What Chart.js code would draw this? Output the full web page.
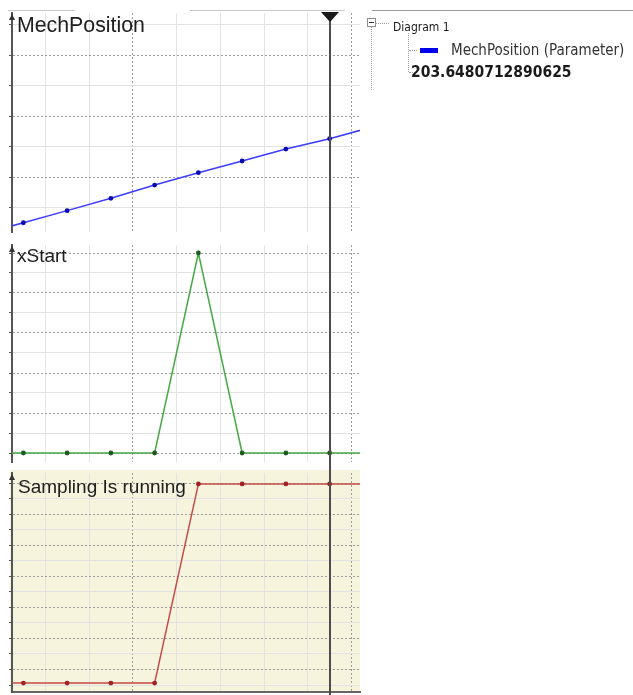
<!DOCTYPE html>
<html>
<head>
<meta charset="utf-8">
<title>Scope</title>
<script src="https://cdn.jsdelivr.net/npm/chart.js@4.4.1/dist/chart.umd.min.js"></script>
<style>
  html, body { margin: 0; padding: 0; background: #fff; }
  body { position: relative; width: 633px; height: 695px; overflow: hidden; }
  canvas.panel { position: absolute; left: 0; }
  .ptitle { position: absolute; left: 17px; color: #202020; white-space: nowrap; line-height: 1;
            font-family: "Liberation Sans", Arial, sans-serif; }
  .hl { position: absolute; height: 0; }
  .vl { position: absolute; width: 0; }
  .tree { position: absolute; white-space: nowrap; line-height: 1; color: #1a1a1a;
          font-family: "DejaVu Sans Condensed", "DejaVu Sans", sans-serif; font-stretch: condensed; }
  #toggle { position: absolute; left: 367px; top: 18px; width: 7px; height: 7px; border: 1px solid #8c8c8c; background: #fff; }
  #toggle::after { content: ""; position: absolute; left: 1px; top: 3px; width: 5px; height: 1px; background: #333; }
  #swatch { position: absolute; left: 420px; top: 48px; width: 18px; height: 5px; background: #0000ee; }
</style>
</head>
<body>

<!-- window frame strip above the plots -->
<div class="hl" style="left:8px;top:10px;width:67px;border-top:1px solid #c8c8c8;"></div>
<div class="hl" style="left:190px;top:10px;width:155px;border-top:1px solid #c8c8c8;"></div>
<div class="hl" style="left:372px;top:10px;width:261px;border-top:1px solid #9a9a9a;"></div>

<canvas class="panel" id="c1" width="362" height="239" style="top:0px"></canvas>
<canvas class="panel" id="c2" width="362" height="229" style="top:239px"></canvas>
<canvas class="panel" id="c3" width="362" height="227" style="top:468px"></canvas>

<div class="ptitle" id="t1" style="top:15px;font-size:21.3px;"></div>
<div class="ptitle" id="t2" style="top:246px;font-size:19px;"></div>
<div class="ptitle" id="t3" style="top:477px;left:18px;font-size:19px;"></div>

<!-- diagram tree -->
<div id="toggle"></div>
<div class="hl" style="left:376px;top:23px;width:13px;border-top:1px dotted #a0a0a0;"></div>
<div class="vl" style="left:371px;top:27px;height:63px;border-left:1px dotted #a0a0a0;"></div>
<div class="vl" style="left:408px;top:33px;height:39px;border-left:1px dotted #a0a0a0;"></div>
<div class="hl" style="left:409px;top:50px;width:8px;border-top:1px dotted #a0a0a0;"></div>
<div class="hl" style="left:409px;top:72px;width:8px;border-top:1px dotted #a0a0a0;"></div>
<div class="tree" id="diagramName" style="left:393px;top:21px;font-size:12px;"></div>
<div id="swatch"></div>
<div class="tree" id="seriesName" style="left:451px;top:43px;font-size:15px;color:#333;"></div>
<div class="tree" id="cursorReadout" style="left:411px;top:65px;font-size:15.5px;font-weight:bold;"></div>

<script>
// Samples (ms) and recorded channel values
const sampleTimes        = [65, 75, 85, 95, 105, 115, 125, 135, 145, 155];
const mechPosition       = [195.77, 196.76, 197.75, 198.76, 199.85, 200.86, 201.82, 202.80, 203.6480712890625, 204.63];
const xStart             = [0, 0, 0, 0, 0, 1, 0, 0, 0, 0];
const samplingIsRunning  = [0, 0, 0, 0, 0, 1, 1, 1, 1, 1];

// Time grid (ms) and cursor
const gridTimes  = [80, 90, 100, 110, 120, 130, 140, 150];
const cursorTime = 145;

const channelNames = ['MechPosition', 'xStart', 'Sampling Is running'];
const diagramName  = 'Diagram 1';
const seriesLabel  = 'MechPosition (Parameter)';

const timeMin = 72.4, timeMax = 151.94;

const panels = [
  { canvas: 'c1', title: 't1', name: channelNames[0], values: mechPosition,
    line: '#3c3cff', point: '#0a0ab4', yMin: 196.0, yMax: 213.95, gridFrom: 198, gridStep: 2.5,
    pad: { top: 13, bottom: 7 }, cursorHead: true },
  { canvas: 'c2', title: 't2', name: channelNames[1], values: xStart,
    line: '#45a845', point: '#1d5c1d', yMin: -0.045, yMax: 1.04, gridFrom: -0.1, gridStep: 0.1,
    pad: { top: 6, bottom: 6 } },
  { canvas: 'c3', title: 't3', name: channelNames[2], values: samplingIsRunning,
    line: '#c44a4a', point: '#a02222', yMin: -0.045, yMax: 1.055, gridFrom: -0.01, gridStep: 0.078,
    pad: { top: 5, bottom: 3 }, background: '#f6f4dc', bottomBorder: true }
];

const MAJOR_GRID = '#9c9c9c', MINOR_GRID = '#e3e3e3', AXIS = '#555555';

function isMajorTime(v) { return Math.round(v) % 50 === 0; }

// Panel background, y-axis arrow and measurement cursor
const scopePlugin = {
  id: 'scope',
  beforeDraw(chart, args, opts) {
    if (!opts.background) return;
    const a = chart.chartArea, ctx = chart.ctx;
    ctx.save();
    ctx.fillStyle = opts.background;
    ctx.fillRect(a.left - 2, a.top - 3, a.right - a.left + 2, a.bottom - a.top + 4);
    ctx.restore();
  },
  afterDraw(chart, args, opts) {
    const a = chart.chartArea, ctx = chart.ctx;
    // arrow on the value axis
    ctx.save();
    ctx.fillStyle = '#333';
    ctx.beginPath();
    ctx.moveTo(a.left, a.top + 1);
    ctx.lineTo(a.left - 3, a.top + 7);
    ctx.lineTo(a.left + 3, a.top + 7);
    ctx.closePath();
    ctx.fill();
    // cursor
    const x = Math.round(chart.scales.x.getPixelForValue(cursorTime));
    ctx.strokeStyle = '#4d4d4d';
    ctx.lineWidth = 2;
    ctx.beginPath();
    ctx.moveTo(x, opts.cursorHead ? 14 : 0);
    ctx.lineTo(x, chart.height);
    ctx.stroke();
    if (opts.cursorHead) {
      ctx.fillStyle = '#1a1a1a';
      ctx.beginPath();
      ctx.moveTo(x - 9, 12);
      ctx.lineTo(x + 9, 12);
      ctx.lineTo(x, 22);
      ctx.closePath();
      ctx.fill();
    }
    ctx.restore();
  }
};

function buildPanel(p) {
  document.getElementById(p.title).textContent = p.name;
  const yMajor = v => Math.round((v - p.gridFrom) / p.gridStep) % 2 === 1;
  return new Chart(document.getElementById(p.canvas), {
    type: 'line',
    data: {
      datasets: [{
        label: p.name,
        data: sampleTimes.map((t, i) => ({ x: t, y: p.values[i] })),
        borderColor: p.line,
        borderWidth: 1.5,
        tension: 0,
        pointRadius: 2.4,
        pointBorderWidth: 0,
        pointBackgroundColor: p.point
      }]
    },
    options: {
      responsive: false,
      animation: false,
      events: [],
      layout: { autoPadding: false, padding: { left: 9, right: 2, top: p.pad.top, bottom: p.pad.bottom } },
      plugins: {
        legend: { display: false },
        tooltip: { enabled: false },
        scope: { background: p.background || null, cursorHead: !!p.cursorHead }
      },
      scales: {
        x: {
          type: 'linear', min: timeMin, max: timeMax,
          afterBuildTicks: s => { s.ticks = gridTimes.map(v => ({ value: v })); },
          ticks: { display: false },
          grid: {
            drawTicks: false,
            lineWidth: 1,
            color: c => (c.tick && isMajorTime(c.tick.value)) ? MAJOR_GRID : MINOR_GRID
          },
          border: {
            display: !!p.bottomBorder, color: '#666', width: 2,
            dash: c => (c.tick && isMajorTime(c.tick.value)) ? [2, 2] : []
          }
        },
        y: {
          type: 'linear', min: p.yMin, max: p.yMax,
          afterBuildTicks: s => {
            const out = [];
            for (let n = 0; n < 200; n++) {
              const v = p.gridFrom + n * p.gridStep;
              if (v > p.yMax + 1e-9) break;
              if (v >= p.yMin - 1e-9) out.push({ value: v });
            }
            s.ticks = out;
          },
          ticks: { display: false },
          grid: {
            drawTicks: true, tickLength: 3, tickColor: AXIS, tickWidth: 1,
            lineWidth: 1,
            color: c => (c.tick && yMajor(c.tick.value)) ? MAJOR_GRID : MINOR_GRID
          },
          border: {
            display: true, color: AXIS, width: 2,
            dash: c => (c.tick && yMajor(c.tick.value)) ? [2, 2] : []
          }
        }
      }
    },
    plugins: [scopePlugin]
  });
}

panels.forEach(buildPanel);

// Tree view: diagram, channel and value under the cursor
document.getElementById('diagramName').textContent = diagramName;
document.getElementById('seriesName').textContent = seriesLabel;
document.getElementById('cursorReadout').textContent =
  String(mechPosition[sampleTimes.indexOf(cursorTime)]);
</script>
</body>
</html>
